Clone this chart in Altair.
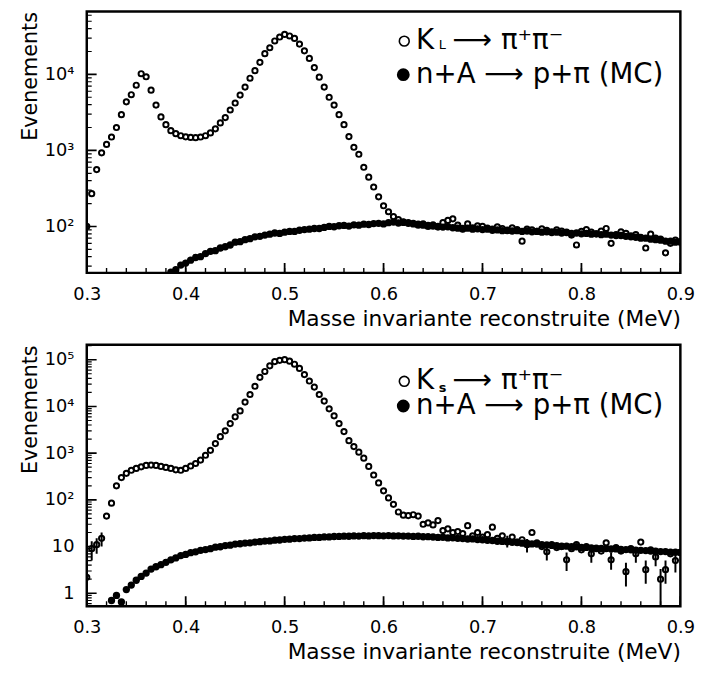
import altair as alt
import pandas as pd

# ---------------------------------------------------------------------------
# Binned invariant-mass spectra (bin width 0.005 on the mass axis)
# ---------------------------------------------------------------------------
BIN0 = 0.300
BIN_W = 0.005

# K_L -> pi+ pi- (open circles), 0.300 ... 0.900
kl_counts = [
    100, 270, 560, 930, 1200, 1500, 2000, 2950, 4350, 5400,
    7200, 10200, 9300, 6200, 3950, 2760, 2180, 1820, 1660, 1560,
    1510, 1480, 1470, 1500, 1560, 1700, 1920, 2300, 2700, 3400,
    4200, 5350, 6800, 8900, 11200, 14400, 18700, 22400, 27500, 31000,
    33500, 32000, 29700, 25000, 20400, 16200, 12300, 9200, 6800, 5000,
    3950, 2950, 2180, 1520, 1100, 890, 600, 445, 330, 245,
    187, 156, 135, 123, 115, 112, 110, 104, 108, 100,
    105, 98, 112, 120, 126, 104, 92, 108, 96, 102,
    100, 95, 92, 99, 94, 88, 96, 91, 64, 92,
    90, 86, 93, 89, 85, 90, 87, 84, 77, 57,
    86, 91, 84, 80, 87, 94, 60, 78, 85, 81,
    75, 78, 72, 52, 79, 70, 68, 45, 60, 66, 62,
]

# n+A -> p+pi Monte Carlo under the K_L spectrum, 0.385 ... 0.900
mc_top_start = 0.385
mc_top_counts = [
    25, 27, 31, 33, 36, 39, 40, 44, 47, 48,
    52, 54, 57, 62, 63, 67, 69, 73, 74, 77,
    79, 82, 81, 84, 86, 86, 89, 91, 92, 94,
    94, 97, 100, 99, 102, 103, 101, 105, 104, 107,
    106, 109, 110, 108, 112, 114, 111, 113, 110, 108,
    107, 104, 103, 101, 100, 98, 99, 96, 95, 94,
    95, 92, 93, 91, 92, 89, 90, 88, 89, 87,
    88, 86, 87, 85, 86, 84, 85, 83, 84, 82,
    83, 81, 82, 80, 81, 79, 80, 78, 79, 77,
    76, 76, 74, 73, 72, 70, 70, 68, 67, 66,
    64, 64, 62, 63,
]

# K_S -> pi+ pi- (open circles), 0.300 ... 0.900
ks_counts = [
    2.2, 9, 11, 15, 45, 85, 200, 300, 370, 430,
    470, 510, 545, 555, 545, 520, 495, 470, 440, 430,
    470, 530, 600, 710, 900, 1150, 1600, 2250, 3000, 4300,
    6000, 8000, 12400, 18000, 27000, 42000, 56000, 74000, 91000, 97000,
    100000, 93000, 80000, 65000, 48000, 35000, 26000, 18000, 13000, 8900,
    6300, 4300, 2900, 1850, 1380, 1050, 780, 520, 340, 230,
    156, 110, 80, 55, 47, 46, 48, 45, 30, 32,
    29, 36, 22, 24, 20, 21, 19, 28, 17, 20,
    16, 18, 26, 15, 17, 13, 16, 12.5, 14, 11,
    20, 12, 10, 7.7, 11, 9.5, 10, 5.2, 9, 11,
    8.5, 10, 7, 9, 8, 12, 5.2, 9.5, 8, 2.9,
    9, 7, 12.5, 3.2, 8.5, 6, 2.0, 3.2, 7, 5, 7.5,
]

# error bars drawn on the low-statistics K_S bins
ks_err_mass = [0.300, 0.305, 0.310, 0.315, 0.725, 0.745, 0.765, 0.785, 0.810,
               0.830, 0.845, 0.855, 0.865, 0.875, 0.880, 0.885, 0.895]
ks_err_lo = [0.5, 5, 7, 10, 9.5, 7.5, 5, 3.0, 4.5, 3.2, 1.4, 4.5, 1.6, 3.8, 0.5, 1.6, 2.8]
ks_err_hi = [3.8, 13, 15, 20, 17, 14.5, 10.5, 7.5, 9.5, 7.6, 4.5, 9.5, 5, 8.5, 3.3, 5, 7.5]

# n+A -> p+pi Monte Carlo under the K_S spectrum, 0.325 ... 0.900
mc_bot_start = 0.325
mc_bot_counts = [
    0.7, 0.9, 0.65, 1.2, 1.5, 1.9, 2.3, 2.7, 3.3, 3.7,
    4.1, 4.6, 5.2, 5.7, 6.4, 6.8, 7.4, 7.7, 8.3, 8.6,
    9.0, 9.7, 9.9, 10.5, 10.7, 11.3, 11.5, 11.9, 12.0, 12.5,
    12.7, 13.1, 13.2, 13.7, 13.8, 14.3, 14.4, 14.8, 14.8, 15.2,
    15.3, 15.7, 15.7, 16.1, 16.1, 16.4, 16.5, 16.7, 16.6, 16.9,
    16.8, 17.1, 16.9, 17.2, 17.1, 17.0, 17.2, 16.9, 17.0, 16.8,
    16.8, 16.5, 16.6, 16.2, 16.3, 16.0, 15.7, 15.8, 15.3, 15.4,
    15.0, 14.9, 14.5, 14.6, 14.1, 14.0, 13.6, 13.5, 13.0, 12.9,
    12.6, 12.3, 12.2, 11.8, 11.8, 11.4, 11.3, 11.0, 10.9, 10.6,
    10.5, 10.2, 10.2, 9.9, 9.9, 9.6, 9.6, 9.4, 9.3, 9.1,
    9.1, 8.9, 8.9, 8.7, 8.6, 8.5, 8.4, 8.3, 8.2, 8.0,
    8.0, 7.8, 7.8, 7.6, 7.6, 7.5,
]

x_major = [0.3, 0.4, 0.5, 0.6, 0.7, 0.8, 0.9]
x_minor = [round(0.3 + 0.02 * i, 2) for i in range(31)]

FONT = "DejaVu Sans"
W, H = 602, 265


def binned(start, counts):
    return pd.DataFrame({
        "mass": [round(start + BIN_W * i, 3) for i in range(len(counts))],
        "count": counts,
    })


def log_ticks(lo_exp, hi_exp):
    return [m * 10 ** e for e in range(lo_exp, hi_exp + 1) for m in range(2, 10)]


SUP_LABELS = ("datum.value == 1 ? '1' : datum.value == 10 ? '10' : "
              "datum.value == 100 ? '10²' : datum.value == 1000 ? '10³' : "
              "datum.value == 10000 ? '10⁴' : '10⁵'")


def panel(signal_df, mc_df, y_domain, decades, minor_vals, sub_label, sub_bold,
          legend_y, err_df=None):
    xs = alt.Scale(domain=[0.3, 0.9], nice=False, zero=False)
    ys = alt.Scale(type="log", domain=y_domain, nice=False)

    x_lab = alt.Axis(orient="bottom", values=x_major, format=".1f", ticks=False,
                     domain=False, grid=False, labelFlush=False, labelPadding=13,
                     labelFontSize=18, title="Masse invariante reconstruite (MeV)",
                     titleAnchor="end", titleFontSize=22, titleFontWeight="normal",
                     titlePadding=5)
    y_lab = alt.Axis(orient="left", values=decades, labelExpr=SUP_LABELS, ticks=False,
                     domain=False, grid=False, labelFlush=False, labelPadding=13,
                     labelFontSize=18, title="Evenements", titleAnchor="end",
                     titleFontSize=21, titleFontWeight="normal", titlePadding=4)

    # open circles: the measured spectrum (carries the visible axes)
    signal = alt.Chart(signal_df).mark_point(
        shape="circle", filled=False, size=28, strokeWidth=2, color="black",
        opacity=1, clip=True,
    ).encode(
        x=alt.X("mass:Q", scale=xs, axis=x_lab),
        y=alt.Y("count:Q", scale=ys, axis=y_lab),
    )
    # filled dots: Monte Carlo background
    mc = alt.Chart(mc_df).mark_circle(size=55, color="black", opacity=1, clip=True).encode(
        x=alt.X("mass:Q", scale=xs, axis=None),
        y=alt.Y("count:Q", scale=ys, axis=None),
    )

    # inward-pointing ticks along the bottom and left edges of the frame
    def xticks(vals, length, width):
        return alt.Chart(pd.DataFrame({"mass": vals})).mark_rule(
            color="black", strokeWidth=width, clip=True
        ).encode(
            x=alt.X("mass:Q", scale=xs, axis=None),
            y=alt.value(H), y2=alt.value(H - length),
        )

    def yticks(vals, length, width):
        return alt.Chart(pd.DataFrame({"count": vals})).mark_rule(
            color="black", strokeWidth=width, clip=True
        ).encode(
            y=alt.Y("count:Q", scale=ys, axis=None),
            x=alt.value(0), x2=alt.value(length),
        )

    layers = [
        signal, mc,
        xticks(x_minor, 5, 1.4), xticks(x_major, 10, 1.8),
        yticks(minor_vals, 5, 1.2), yticks(decades, 10, 1.6),
    ]
    if err_df is not None:
        layers.append(
            alt.Chart(err_df).mark_rule(color="black", strokeWidth=2, clip=True).encode(
                x=alt.X("mass:Q", scale=xs, axis=None),
                y=alt.Y("lo:Q", scale=ys, axis=None),
                y2="hi:Q",
            )
        )

    # legend drawn inside the frame
    one = pd.DataFrame({"k": [0]})
    r1, r2 = legend_y
    lx = 334
    layers += [
        alt.Chart(one).mark_point(shape="circle", filled=False, size=100, strokeWidth=1.6,
                                  color="black", opacity=1)
        .encode(x=alt.value(322), y=alt.value(r1 - 8)),
        alt.Chart(one).mark_circle(size=170, color="black", opacity=1)
        .encode(x=alt.value(321), y=alt.value(r2 - 8)),
        alt.Chart(one).mark_text(text="K", font=FONT, fontSize=28, align="left",
                                 baseline="alphabetic", color="black")
        .encode(x=alt.value(lx), y=alt.value(r1)),
        alt.Chart(one).mark_text(text=sub_label, font=FONT, fontSize=13, align="left",
                                 baseline="alphabetic", color="black",
                                 fontWeight="bold" if sub_bold else "normal")
        .encode(x=alt.value(lx + 23), y=alt.value(r1 + (3 if sub_bold else 0))),
        alt.Chart(one).mark_text(text="⟶ π⁺π⁻", font=FONT, fontSize=28, align="left",
                                 baseline="alphabetic", color="black")
        .encode(x=alt.value(lx + 37), y=alt.value(r1)),
        alt.Chart(one).mark_text(text="n+A ⟶ p+π (MC)", font=FONT, fontSize=28,
                                 align="left", baseline="alphabetic", color="black")
        .encode(x=alt.value(lx), y=alt.value(r2)),
    ]

    return alt.layer(*layers).resolve_axis(x="independent", y="independent").properties(
        width=W, height=H
    )


top = panel(
    binned(BIN0, kl_counts), binned(mc_top_start, mc_top_counts),
    y_domain=[24.5, 67000], decades=[100, 1000, 10000],
    minor_vals=log_ticks(1, 4), sub_label="L", sub_bold=False, legend_y=(38, 72),
)
bottom = panel(
    binned(BIN0, ks_counts), binned(mc_bot_start, mc_bot_counts),
    y_domain=[0.53, 208000], decades=[1, 10, 100, 1000, 10000, 100000],
    minor_vals=log_ticks(-1, 5), sub_label="s", sub_bold=True, legend_y=(45, 70),
    err_df=pd.DataFrame({"mass": ks_err_mass, "lo": ks_err_lo, "hi": ks_err_hi}),
)

chart = alt.vconcat(top, bottom, spacing=12).properties(
    padding={"left": 18, "top": 5, "right": 10, "bottom": 0},
    background="white",
).configure_view(
    stroke="black", strokeWidth=2.5,
).configure_axis(
    labelFont=FONT, titleFont=FONT, labelColor="black", titleColor="black",
)

chart.save("out.html", embed_options={"renderer": "svg", "actions": False})
